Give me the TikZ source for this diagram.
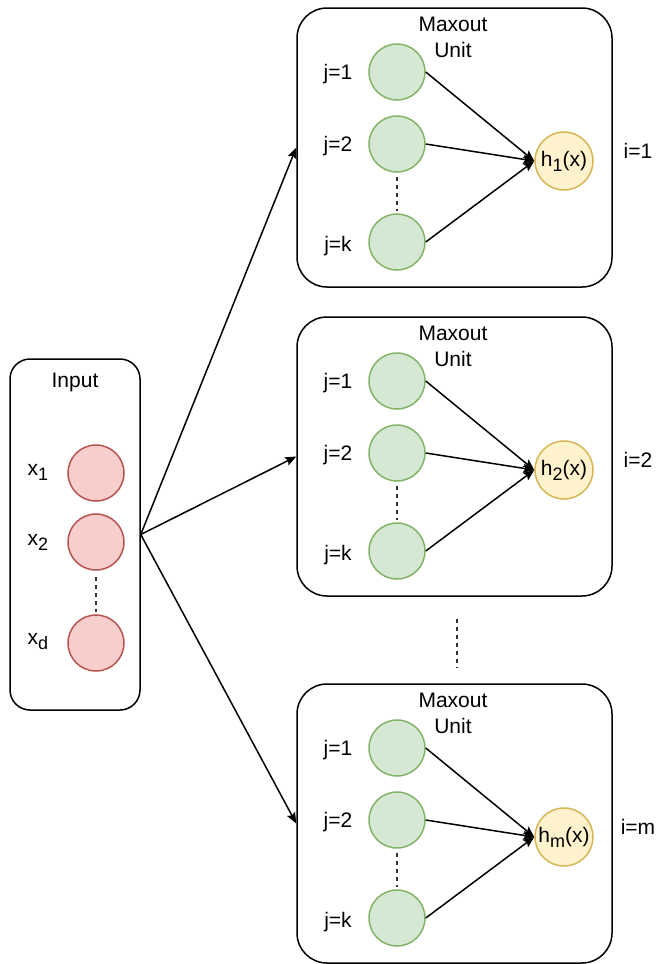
\documentclass[tikz,border=0pt]{standalone}
\usepackage{fontspec}
\setmainfont{Liberation Sans}
\usetikzlibrary{positioning, arrows.meta}
\definecolor{GateGreen}{HTML}{D5E8D4}
\definecolor{GateGreenLine}{HTML}{82B366}
\definecolor{InRed}{HTML}{F8CECC}
\definecolor{InRedLine}{HTML}{B85450}
\definecolor{OutYellow}{HTML}{FFF2CC}
\definecolor{OutYellowLine}{HTML}{D6B656}
\newcommand{\lowidx}[1]{\raisebox{-5pt}{\fontsize{18}{18}\selectfont #1}}
\tikzset{
  unitbox/.style={draw, line width=1.5pt, rounded corners=30pt, minimum width=315pt,
    minimum height=279pt, inner sep=0pt},
  inbox/.style={unitbox, rounded corners=20pt, minimum width=130pt, minimum height=351pt},
  lab/.style={font=\fontsize{21}{26}\selectfont, inner sep=0pt, align=center},
  incell/.style={circle, draw=InRedLine, fill=InRed, line width=1.5pt, minimum size=56pt,
    inner sep=0pt, font=\fontsize{21}{26}\selectfont},
  gcell/.style={incell, draw=GateGreenLine, fill=GateGreen},
  hcell/.style={incell, draw=OutYellowLine, fill=OutYellow, minimum size=58pt},
  wire/.style={-{Stealth[length=11pt, width=9pt, inset=2pt]}, line width=1.5pt},
  dots/.style={line width=1.3pt, black!80, dash pattern=on 4pt off 4pt},
}

\begin{document}
\begin{tikzpicture}[x=1pt, y=-1pt]
  \useasboundingbox (0,0) rectangle (657,964);

  % input layer
  \node[inbox] (in) at (75,534.5) {};
  \node[lab] (intitle) at (75,382) {Input};
  \node[incell] (x1) at (96,473) {};
  \node[incell] (x2) at (96,542) {};
  \node[incell] (xd) at (96,643) {};
  \node[lab] (x1lab) at (38,472) {x\lowidx{1}};
  \node[lab] (x2lab) at (38,542) {x\lowidx{2}};
  \node[lab] (xdlab) at (38,642) {x\lowidx{d}};
  \draw[dots, shorten <=6pt, shorten >=2pt] (x2) -- (xd);

  % maxout units
  \foreach \u/\yy/\s in {1/8/1, 2/317/2, 3/684/m} {
    \node[unitbox] (unit\u) at (454.5,\yy+139.5) {};
    \node[lab] (title\u) at (453,\yy+29) {Maxout\\Unit};
    \node[gcell] (g\u1) at (397,\yy+64) {};
    \node[gcell] (g\u2) at (397,\yy+136) {};
    \node[gcell] (g\u k) at (397,\yy+234) {};
    \node[lab] (j\u1) at (338,\yy+66) {j=1};
    \node[lab] (j\u2) at (338,\yy+138) {j=2};
    \node[lab] (j\u k) at (338,\yy+238) {j=k};
    \node[hcell] (h\u) at (564,\yy+153) {h\lowidx{\s}(x)};
    \node[lab] (i\u) at (638,\yy+143) {i=\s};
    \draw[dots, shorten <=4pt, shorten >=2pt] (g\u2) -- (g\u k);
    \foreach \j in {1,2,k}
      \draw[wire] (g\u\j.east) -- (h\u.west);
    \draw[wire] (in.east) -- (unit\u.west);
  }
  \draw[dots, shorten <=22pt, shorten >=15pt] ([xshift=2.5pt]unit2.south) -- ([xshift=2.5pt]unit3.north);
\end{tikzpicture}
\end{document}
